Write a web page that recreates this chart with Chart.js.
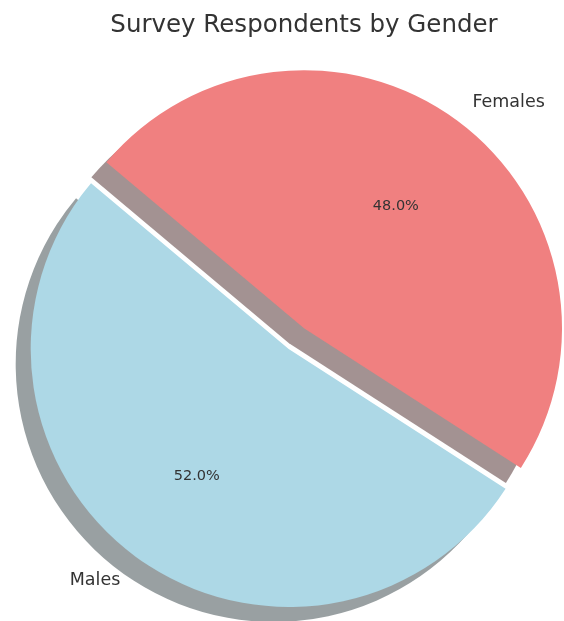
<!DOCTYPE html>
<html>
<head>
<meta charset="utf-8">
<title>Survey Respondents by Gender</title>
<script src="https://cdn.jsdelivr.net/npm/chart.js@4.4.1/dist/chart.umd.min.js"></script>
<style>
  html, body { margin: 0; padding: 0; background: #fff; }
  #wrap { width: 564px; height: 621px; }
</style>
</head>
<body>
<div id="wrap"><canvas id="pieChart"></canvas></div>
<script>
const labels = ["Males", "Females"];
const counts = [52, 48];
const colors = ["#add8e6", "#f08080"];
const explode = [0.1, 0];
const startAngle = 140; // degrees, counter-clockwise from 3 o'clock

const $ = (id) => document.getElementById(id);
const FONT = "'DejaVu Sans', sans-serif";
const TEXT = "#333";
const total = counts.reduce((a, b) => a + b, 0);

// chart.js runs clockwise from 12 o'clock, so begin where the first slice ends
const rotation = 90 - startAngle - (counts[0] / total) * 360;

function shadowColor(hex) {
  const n = parseInt(hex.slice(1), 16);
  const rgb = [(n >> 16) & 255, (n >> 8) & 255, n & 255].map((c) => Math.round(c * 0.3));
  return `rgba(${rgb.join(",")},0.5)`;
}

// push exploded slices out along their middle angle
const explodePlugin = {
  id: "explode",
  afterDatasetUpdate(chart, args) {
    args.meta.data.forEach((arc, i) => {
      const e = explode[i] || 0;
      if (!e) return;
      const mid = (arc.startAngle + arc.endAngle) / 2;
      arc.x += Math.cos(mid) * e * arc.outerRadius;
      arc.y += Math.sin(mid) * e * arc.outerRadius;
    });
  },
};

// flat drop shadow under every slice
const shadowPlugin = {
  id: "sliceShadow",
  beforeDatasetDraw(chart, args) {
    const ctx = chart.ctx;
    ctx.save();
    ctx.translate(-15, 15);
    args.meta.data.forEach((arc, i) => {
      ctx.beginPath();
      ctx.moveTo(arc.x, arc.y);
      ctx.arc(arc.x, arc.y, arc.outerRadius, arc.startAngle, arc.endAngle);
      ctx.closePath();
      ctx.fillStyle = shadowColor(colors[i]);
      ctx.fill();
    });
    ctx.restore();
  },
};

// text roughly centred on its capital height
function drawText(ctx, str, x, y, size, align) {
  ctx.font = `${size}px ${FONT}`;
  ctx.textAlign = align;
  ctx.fillText(str, x, y + size * 0.42);
}

// category names outside, percentages inside
const sliceLabels = {
  id: "sliceLabels",
  afterDatasetsDraw(chart) {
    const ctx = chart.ctx;
    const meta = chart.getDatasetMeta(0);
    ctx.save();
    ctx.fillStyle = TEXT;
    ctx.textBaseline = "alphabetic";
    meta.data.forEach((arc, i) => {
      const mid = (arc.startAngle + arc.endAngle) / 2;
      const cx = Math.cos(mid), cy = Math.sin(mid);
      const r = arc.outerRadius;
      drawText(ctx, labels[i], arc.x + cx * r * 1.1, arc.y + cy * r * 1.1, 17.5, cx < 0 ? "right" : "left");
      const pct = ((counts[i] / total) * 100).toFixed(1) + "%";
      drawText(ctx, pct, arc.x + cx * r * 0.6, arc.y + cy * r * 0.6, 14.5, "center");
    });
    ctx.restore();
  },
};

new Chart($("pieChart"), {
  type: "pie",
  data: {
    labels,
    datasets: [{
      data: counts,
      backgroundColor: colors,
      borderWidth: 0,
      radius: 258,
      clip: false,
    }],
  },
  options: {
    responsive: true,
    maintainAspectRatio: false,
    animation: false,
    rotation,
    layout: { padding: { left: 44, right: 0, top: 0, bottom: 5 } },
    plugins: {
      legend: { display: false },
      tooltip: { enabled: false },
      title: {
        display: true,
        text: "Survey Respondents by Gender",
        color: TEXT,
        font: { family: FONT, size: 24.5, weight: "normal" },
        padding: { top: 11, bottom: 0 },
      },
    },
    events: [],
  },
  plugins: [explodePlugin, shadowPlugin, sliceLabels],
});
</script>
</body>
</html>
